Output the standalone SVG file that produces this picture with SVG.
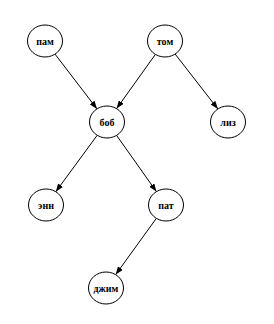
<svg xmlns="http://www.w3.org/2000/svg" width="274" height="324" viewBox="0 0 274 324">
<style>
.n ellipse{fill:#fff;stroke:#000;stroke-width:1}
.n text{font-family:"Liberation Serif","DejaVu Serif",serif;font-weight:bold;font-size:10px;text-anchor:middle;fill:#000}
.e line{stroke:#000;stroke-width:1;marker-end:url(#ah)}
</style>
<defs>
<marker id="ah" markerUnits="userSpaceOnUse" markerWidth="9" markerHeight="6" refX="8" refY="3" orient="auto">
<path d="M0,0 L8,3 L0,6 z" fill="#000"/>
</marker>
</defs>
<rect width="274" height="324" fill="#fff"/>
<g id="edges" class="e">
<line x1="55" y1="54.1" x2="97" y2="108.9"/>
<line x1="155.4" y1="54.4" x2="116.6" y2="108.6"/>
<line x1="175.1" y1="54" x2="217.9" y2="109"/>
<line x1="97.2" y1="135.3" x2="55.8" y2="191.7"/>
<line x1="116.6" y1="135.4" x2="156.4" y2="191.6"/>
<line x1="156.3" y1="218.4" x2="115.7" y2="274.6"/>
</g>
<g id="pam" class="n"><ellipse cx="45" cy="41" rx="17.5" ry="16"/><text x="45" y="44.5">пам</text></g>
<g id="tom" class="n"><ellipse cx="165" cy="41" rx="17.5" ry="16"/><text x="165" y="44.5">том</text></g>
<g id="bob" class="n"><ellipse cx="107" cy="122" rx="17.5" ry="16"/><text x="107" y="125.5">боб</text></g>
<g id="liz" class="n"><ellipse cx="228" cy="122" rx="17.5" ry="16"/><text x="228" y="125.5">лиз</text></g>
<g id="ann" class="n"><ellipse cx="46" cy="205" rx="17.5" ry="16"/><text x="46" y="208.5">энн</text></g>
<g id="pat" class="n"><ellipse cx="166" cy="205" rx="17.5" ry="16"/><text x="166" y="208.5">пат</text></g>
<g id="jim" class="n"><ellipse cx="106" cy="288" rx="17.5" ry="16"/><text x="106" y="291.5">джим</text></g>
</svg>
